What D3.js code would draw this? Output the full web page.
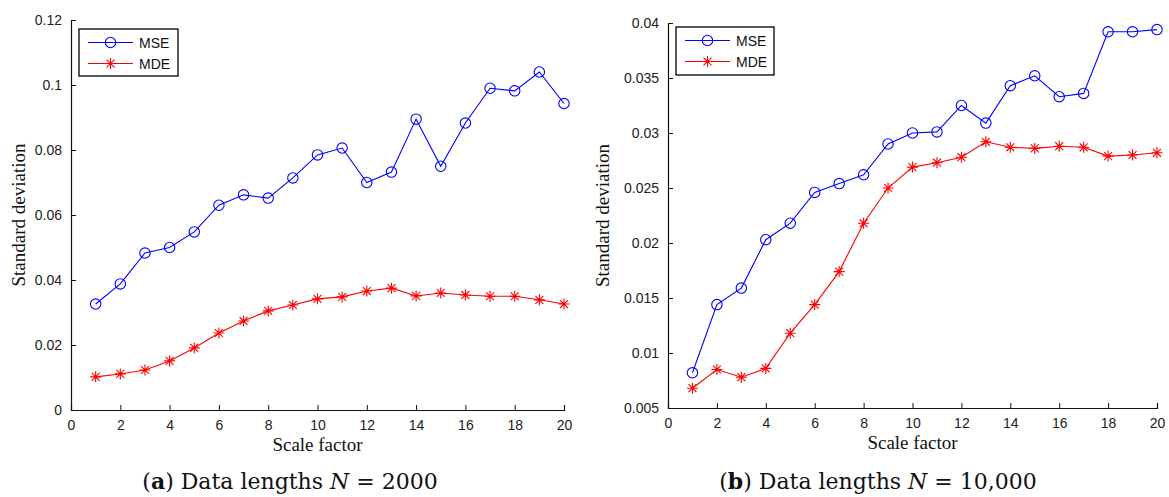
<!DOCTYPE html>
<html>
<head>
<meta charset="utf-8">
<script src="https://cdn.jsdelivr.net/npm/d3@7"></script>
<style>
  html, body { margin: 0; padding: 0; background: #fff; }
  svg { display: block; }
  .tick text { font-family: "Liberation Sans", Arial, sans-serif; font-size: 14px; fill: #222; }
</style>
</head>
<body>
<svg id="chart" width="1169" height="497"></svg>
<script>
// Scale factors 1..20
const scales = d3.range(1, 21);

// Panel (a): N = 2000
const mseA = [0.0326, 0.0388, 0.0483, 0.0500, 0.0548, 0.0630, 0.0662, 0.0652, 0.0714, 0.0785,
              0.0806, 0.0700, 0.0732, 0.0895, 0.0750, 0.0883, 0.0990, 0.0982, 0.1040, 0.0943];
const mdeA = [0.0102, 0.0111, 0.0123, 0.0151, 0.0191, 0.0237, 0.0274, 0.0305, 0.0323, 0.0342,
              0.0348, 0.0366, 0.0375, 0.0351, 0.0360, 0.0354, 0.0350, 0.0350, 0.0339, 0.0326];

// Panel (b): N = 10,000
const mseB = [0.0082, 0.0144, 0.0159, 0.0203, 0.0218, 0.0246, 0.0254, 0.0262, 0.0290, 0.0300,
              0.0301, 0.0325, 0.0309, 0.0343, 0.0352, 0.0333, 0.0336, 0.0392, 0.0392, 0.0394];
const mdeB = [0.0068, 0.0085, 0.0078, 0.0086, 0.0118, 0.0144, 0.0174, 0.0218, 0.0250, 0.0269,
              0.0273, 0.0278, 0.0292, 0.0287, 0.0286, 0.0288, 0.0287, 0.0279, 0.0280, 0.0282];

const xTicks = [0, 2, 4, 6, 8, 10, 12, 14, 16, 18, 20];
const yTicksA = [0, 0.02, 0.04, 0.06, 0.08, 0.1, 0.12];
const yTicksB = [0.005, 0.01, 0.015, 0.02, 0.025, 0.03, 0.035, 0.04];
const seriesNames = ["MSE", "MDE"];
const xLabel = "Scale factor";
const yLabel = "Standard deviation";

const BLUE = "#0000ff", RED = "#ff0000";
const svg = d3.select("#chart");

function starPath(s) {
  // asterisk: vertical, horizontal and two diagonals
  const d = s * 0.72;
  return `M0,${-s}L0,${s}M${-s},0L${s},0M${-d},${-d}L${d},${d}M${-d},${d}L${d},${-d}`;
}

function drawMarker(g, type, x, y, color) {
  if (type === "circle") {
    g.append("circle").attr("cx", x).attr("cy", y).attr("r", 5.2)
      .attr("fill", "none").attr("stroke", color).attr("stroke-width", 1.1);
  } else {
    g.append("path").attr("d", starPath(5.5)).attr("transform", `translate(${x},${y})`)
      .attr("fill", "none").attr("stroke", color).attr("stroke-width", 1.1);
  }
}

function panel(cfg) {
  const x = d3.scaleLinear().domain([0, 20]).range([cfg.x0, cfg.x1]);
  const y = d3.scaleLinear().domain(cfg.yDomain).range([cfg.y0, cfg.y1]);
  const g = svg.append("g");

  // axes (ticks point inward)
  const xAxis = d3.axisBottom(x).tickValues(xTicks).tickSize(-5).tickPadding(10)
    .tickFormat(d3.format("d"));
  const gx = g.append("g").attr("transform", `translate(0,${cfg.y0})`).call(xAxis);
  const yAxis = d3.axisLeft(y).tickValues(cfg.yTicks).tickSize(-5).tickPadding(9)
    .tickFormat(d => String(+d.toFixed(3)));
  const gy = g.append("g").attr("transform", `translate(${cfg.x0},0)`).call(yAxis);
  [gx, gy].forEach(a => {
    a.select(".domain").attr("stroke", "#111").attr("stroke-width", 1.2);
    a.selectAll(".tick line").attr("stroke", "#111");
  });
  gx.selectAll(".tick text").attr("dy", "0.71em");

  const line = d3.line().x((d, i) => x(scales[i])).y(d => y(d));
  const series = [
    { vals: cfg.mse, color: BLUE, marker: "circle" },
    { vals: cfg.mde, color: RED, marker: "star" }
  ];
  series.forEach(s => {
    g.append("path").datum(s.vals).attr("d", line)
      .attr("fill", "none").attr("stroke", s.color).attr("stroke-width", 1.1);
    s.vals.forEach((v, i) => drawMarker(g, s.marker, x(scales[i]), y(v), s.color));
  });

  // legend
  const L = cfg.legend;
  g.append("rect").attr("x", L.x).attr("y", L.y).attr("width", L.w).attr("height", L.h)
    .attr("fill", "#fff").attr("stroke", "#000").attr("stroke-width", 1.3);
  series.forEach((s, i) => {
    const ly = L.y + 13.5 + i * 21;
    g.append("line").attr("x1", L.x + 9).attr("x2", L.x + 54).attr("y1", ly).attr("y2", ly)
      .attr("stroke", s.color).attr("stroke-width", 1.1);
    drawMarker(g, s.marker, L.x + 31.5, ly, s.color);
    g.append("text").attr("x", L.x + 60).attr("y", ly + 5)
      .attr("font-family", "Liberation Sans, Arial, sans-serif").attr("font-size", 14)
      .attr("fill", "#111").text(seriesNames[i]);
  });

  // axis titles
  g.append("text").attr("x", (cfg.x0 + cfg.x1) / 2).attr("y", cfg.y0 + 41)
    .attr("text-anchor", "middle").attr("font-family", "Liberation Serif, Times New Roman, serif")
    .attr("font-size", 19).attr("fill", "#111").text(xLabel);
  g.append("text")
    .attr("transform", `translate(${cfg.yLabelX},${(cfg.y0 + cfg.y1) / 2}) rotate(-90)`)
    .attr("text-anchor", "middle").attr("font-family", "Liberation Serif, Times New Roman, serif")
    .attr("font-size", 19).attr("fill", "#111").text(yLabel);

  // caption
  const cap = g.append("text").attr("x", cfg.capX).attr("y", 489).attr("text-anchor", "middle")
    .attr("font-family", "DejaVu Serif, Liberation Serif, serif").attr("font-size", 22).attr("fill", "#111");
  cap.append("tspan").text("(");
  cap.append("tspan").attr("font-weight", "bold").text(cfg.letter);
  cap.append("tspan").text(") Data lengths ");
  cap.append("tspan").attr("font-style", "italic").text("N");
  cap.append("tspan").text(" = " + cfg.n);
}

panel({
  x0: 71, x1: 564, y0: 410, y1: 20, yDomain: [0, 0.12], yTicks: yTicksA,
  mse: mseA, mde: mdeA, legend: { x: 79, y: 29, w: 99, h: 47 },
  yLabelX: 25, capX: 290, letter: "a", n: "2000"
});
panel({
  x0: 668, x1: 1157, y0: 408, y1: 23, yDomain: [0.005, 0.04], yTicks: yTicksB,
  mse: mseB, mde: mdeB, legend: { x: 676, y: 27, w: 98, h: 48 },
  yLabelX: 609, capX: 878, letter: "b", n: "10,000"
});
</script>
</body>
</html>
